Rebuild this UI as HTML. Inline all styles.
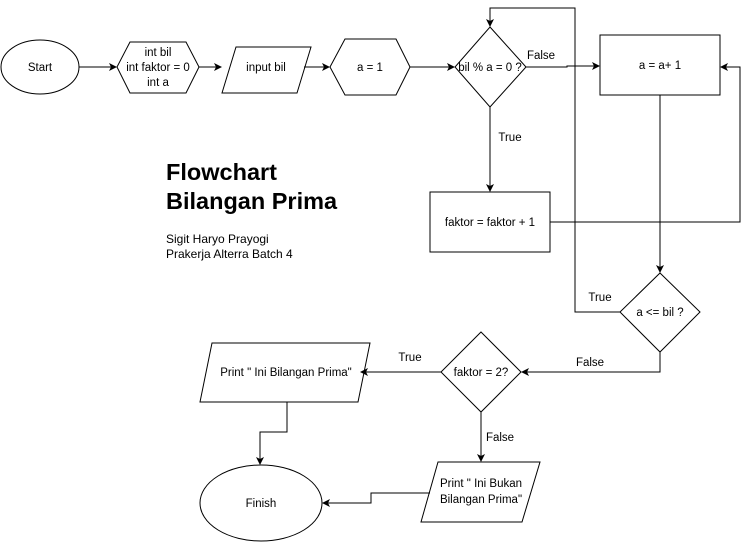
<!DOCTYPE html>
<html><head><meta charset="utf-8"><style>
html,body{margin:0;padding:0;background:#fff;}
svg{display:block;font-family:"Liberation Sans",Arial,sans-serif;}
</style></head><body>
<svg width="749" height="543" viewBox="0 0 749 543" xmlns="http://www.w3.org/2000/svg">
<defs><marker id="a" markerWidth="8" markerHeight="8" refX="7" refY="4" orient="auto" markerUnits="userSpaceOnUse"><path d="M0,0 L8,4 L0,8 L2,4 Z" fill="#000"/></marker></defs>
<g fill="#fff" stroke="#000" stroke-width="1">
<ellipse cx="40" cy="67" rx="39" ry="27"/>
<polygon points="117,67 130,42 186,42 199,67 186,93 130,93"/>
<polygon points="236,47 311,47 297,93 222,93"/>
<polygon points="330,67 345,39 396,39 410,67 396,95 345,95"/>
<polygon points="490,27 526,67 490,107 455,67"/>
<rect x="600" y="35" width="120" height="60"/>
<rect x="430" y="192" width="120" height="60"/>
<polygon points="660,273 700,312 660,352 620,312"/>
<polygon points="481,332 521,372 481,412 441,372"/>
<polygon points="212,343 370,343 358,402 200,402"/>
<ellipse cx="261" cy="503" rx="61" ry="38"/>
<polygon points="438,462 540,462 522,522 421,522"/>
</g>
<g fill="none" stroke="#000" stroke-width="1">
<path d="M79,67 H116" marker-end="url(#a)"/>
<path d="M199,67 H221" marker-end="url(#a)"/>
<path d="M304,67 H329" marker-end="url(#a)"/>
<path d="M410,67 H454" marker-end="url(#a)"/>
<path d="M526,67 H567 V66 H599" marker-end="url(#a)"/>
<path d="M490,107 V191" marker-end="url(#a)"/>
<path d="M550,222 H740 V67 H721" marker-end="url(#a)"/>
<path d="M660,95 V272" marker-end="url(#a)"/>
<path d="M620,312 H575 V8 H490 V26" marker-end="url(#a)"/>
<path d="M660,352 V372 H522" marker-end="url(#a)"/>
<path d="M441,372 H361" marker-end="url(#a)"/>
<path d="M287,402 V432 H260 V464" marker-end="url(#a)"/>
<path d="M481,412 V461" marker-end="url(#a)"/>
<path d="M430,493 H371 V503 H323" marker-end="url(#a)"/>
</g>
<g font-size="11.5" fill="#000" text-anchor="middle">
<text x="40" y="71">Start</text>
<text x="158" y="56">int bil</text>
<text x="158" y="71">int faktor = 0</text>
<text x="158" y="86">int a</text>
<text x="266" y="71">input bil</text>
<text x="370" y="71">a = 1</text>
<text x="490" y="71">bil % a = 0 ?</text>
<text x="541" y="59">False</text>
<text x="660" y="69">a = a+ 1</text>
<text x="510" y="141">True</text>
<text x="490" y="226">faktor = faktor + 1</text>
<text x="600" y="301">True</text>
<text x="660" y="316">a &lt;= bil ?</text>
<text x="590" y="366">False</text>
<text x="481" y="376">faktor = 2?</text>
<text x="410" y="361">True</text>
<text x="286" y="376">Print " Ini Bilangan Prima"</text>
<text x="500" y="441">False</text>
<text x="481" y="487">Print " Ini Bukan</text>
<text x="481" y="503">Bilangan Prima"</text>
<text x="261" y="507">Finish</text>
</g>
<g fill="#000" font-size="23.5" font-weight="bold">
<text x="166" y="180">Flowchart</text>
<text x="166" y="209">Bilangan Prima</text>
</g>
<g fill="#000" font-size="12">
<text x="166" y="243">Sigit Haryo Prayogi</text>
<text x="166" y="258">Prakerja Alterra Batch 4</text>
</g>
</svg>
</body></html>
